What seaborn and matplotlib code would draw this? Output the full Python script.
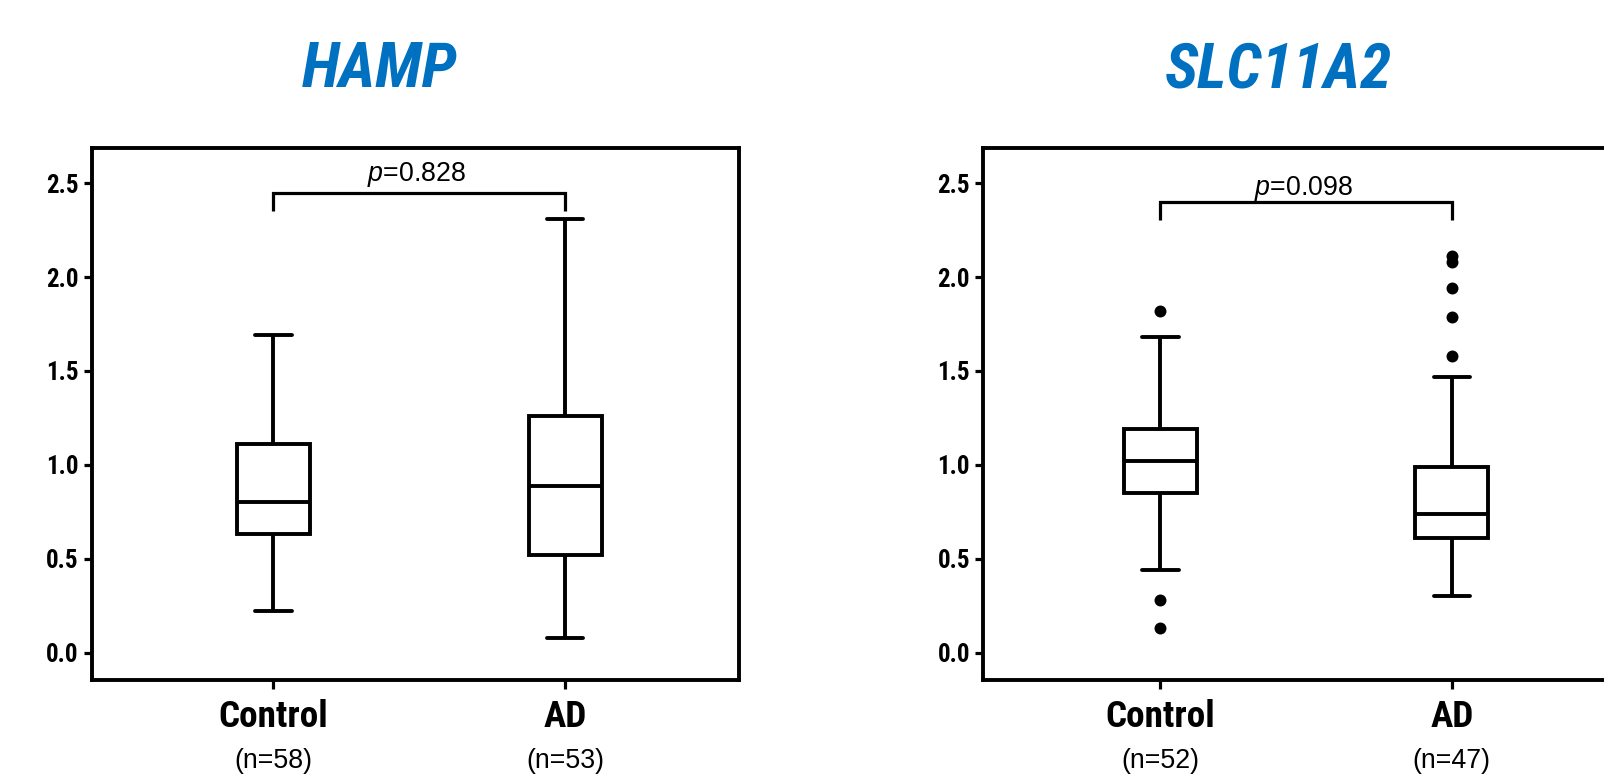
import numpy as np
import pandas as pd
import matplotlib
matplotlib.use("Agg")
import matplotlib.pyplot as plt
import seaborn as sns
from matplotlib import font_manager
from matplotlib.font_manager import FontProperties

# ---------------- data ----------------
GROUPS = ["Control", "AD"]

TITLES = ["HAMP", "SLC11A2"]
N_LABELS = [["(n=58)", "(n=53)"], ["(n=52)", "(n=47)"]]
P_LABELS = ["0.828", "0.098"]

# five-number summaries: whisker low, Q1, median, Q3, whisker high
HAMP_CONTROL = [0.22, 0.63, 0.80, 1.11, 1.69]
HAMP_AD = [0.08, 0.52, 0.89, 1.26, 2.31]
SLC_CONTROL = [0.44, 0.85, 1.02, 1.19, 1.68]
SLC_AD = [0.30, 0.61, 0.74, 0.99, 1.47]

# outliers
HAMP_OUT_GROUP = []
HAMP_OUT_VALUE = []
SLC_OUT_GROUP = ["Control", "Control", "Control", "AD", "AD", "AD", "AD", "AD"]
SLC_OUT_VALUE = [1.82, 0.28, 0.13, 1.58, 1.79, 1.94, 2.08, 2.11]

# significance bracket: top height, leg bottom height, text baseline
BRACKET_TOP = [2.45, 2.40]
BRACKET_LEG = [2.35, 2.305]
P_TEXT_Y = [2.51, 2.435]

Y_TICKS = [0.0, 0.5, 1.0, 1.5, 2.0, 2.5]

# ---------------- fonts ----------------
FL = font_manager.fontManager.ttflist
NARROW_PREF = ["Liberation Sans Narrow", "Nimbus Sans Narrow", "Arial Narrow",
               "Roboto Condensed", "Archivo Narrow", "Liberation Sans"]


def pick(families, weight, style):
    for fam in families:
        cands = [f for f in FL if f.name == fam]
        if not cands:
            continue
        w = [f for f in cands if (f.weight if isinstance(f.weight, int) else 400) >= weight - 50
             and (f.weight if isinstance(f.weight, int) else 400) <= weight + 150]
        s = [f for f in w if f.style == style]
        if s:
            return FontProperties(fname=s[0].fname)
    return FontProperties(family="DejaVu Sans", weight="bold" if weight >= 700 else "normal",
                          style=style)


NB = pick(NARROW_PREF, 700, "normal")      # narrow bold
NBI = pick(NARROW_PREF, 700, "italic")     # narrow bold italic
REG = "Liberation Sans"

sns.set_theme(style="white")
plt.rcParams["font.family"] = [REG, "DejaVu Sans"]
plt.rcParams["mathtext.fontset"] = "custom"
plt.rcParams["mathtext.rm"] = REG
plt.rcParams["mathtext.it"] = REG + ":italic"

BLUE = "#0070C0"
LW = 2.8

W, H = 1604, 776
fig = plt.figure(figsize=(W / 100, H / 100), dpi=100)
fig.patch.set_facecolor("white")

ax_pos = [
    [91.7 / W, (H - 680) / H, 647.6 / W, 532 / H],
    [983.3 / W, (H - 680) / H, 647.6 / W, 532 / H],
]
xlims = [(-0.623, 1.597), (-0.607, 1.614)]
title_xy = [(380 / W, 1 - 86.7 / H), (1278.5 / W, 1 - 87.7 / H)]

panels = [
    (HAMP_CONTROL, HAMP_AD, HAMP_OUT_GROUP, HAMP_OUT_VALUE),
    (SLC_CONTROL, SLC_AD, SLC_OUT_GROUP, SLC_OUT_VALUE),
]

for i, (ctrl, ad, og, ov) in enumerate(panels):
    ax = fig.add_axes(ax_pos[i])
    df = pd.DataFrame({
        "group": ["Control"] * len(ctrl) + ["AD"] * len(ad),
        "value": ctrl + ad,
    })
    sns.boxplot(data=df, x="group", y="value", order=GROUPS, whis=(0, 100),
                width=0.25, color="white", linecolor="black", linewidth=LW,
                showfliers=False, saturation=1, ax=ax)
    if len(ov):
        sns.stripplot(x=og, y=ov, order=GROUPS, jitter=False, color="black",
                      size=8.6, linewidth=0, ax=ax)
    ax.set_xlim(*xlims[i])
    ax.set_ylim(-0.145, 2.687)
    ax.set_yticks(Y_TICKS)
    ax.set_yticklabels([f"{t:.1f}" for t in Y_TICKS])
    ax.set_xlabel("")
    ax.set_ylabel("")
    for s in ax.spines.values():
        s.set_visible(True)
        s.set_linewidth(LW)
        s.set_color("black")
    ax.tick_params(axis="y", left=True, direction="out", length=6, width=2.3,
                   pad=3.5, colors="black")
    ax.tick_params(axis="x", bottom=True, direction="out", length=6.5, width=2.3,
                   pad=7, colors="black")
    for lab in ax.get_yticklabels():
        lab.set_fontproperties(NB)
        lab.set_fontsize(18)
    for lab in ax.get_xticklabels():
        lab.set_fontproperties(NB)
        lab.set_fontsize(26.8)
    # n labels
    for j, g in enumerate(GROUPS):
        ax.text(j, -0.166, N_LABELS[i][j], transform=ax.get_xaxis_transform(),
                ha="center", va="baseline", fontsize=19.3, family=[REG, "DejaVu Sans"],
                color="black", clip_on=False)
    # bracket
    ax.plot([0, 0, 1, 1], [BRACKET_LEG[i], BRACKET_TOP[i], BRACKET_TOP[i], BRACKET_LEG[i]],
            color="black", lw=2.3, solid_joinstyle="miter", solid_capstyle="butt")
    ax.text(0.49, P_TEXT_Y[i], r"$\mathit{p}$=" + P_LABELS[i], ha="center", va="baseline",
            fontsize=19.3, family=[REG, "DejaVu Sans"], color="black")
    t = fig.text(title_xy[i][0], title_xy[i][1], TITLES[i], ha="center", va="baseline",
                 color=BLUE, fontproperties=NBI)
    t.set_fontsize(45.5)

fig.savefig("out.png", dpi=100, facecolor="white")
